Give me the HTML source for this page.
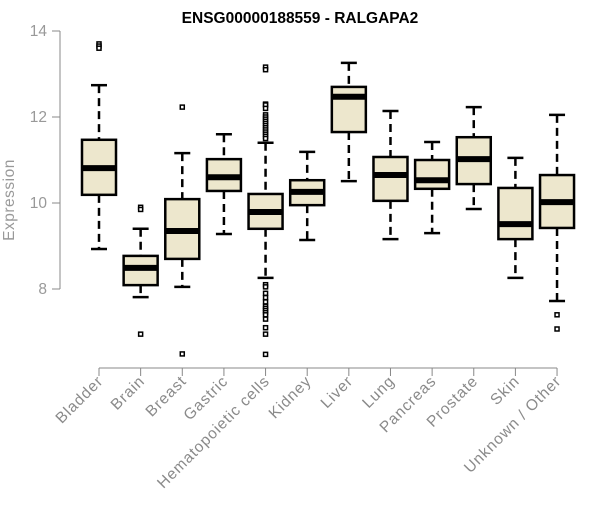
<!DOCTYPE html>
<html><head><meta charset="utf-8"><style>
body{margin:0;background:#fff;}
svg text{font-family:"Liberation Sans",sans-serif;}
</style></head><body>
<svg id="chart" width="600" height="500" xmlns="http://www.w3.org/2000/svg">
<text x="300" y="23" text-anchor="middle" font-size="15.5" font-weight="bold">ENSG00000188559 - RALGAPA2</text>
<text transform="translate(14,200) rotate(-90)" text-anchor="middle" font-size="15.5" fill="#999" letter-spacing="0.5">Expression</text>
<g id="yaxis"></g>
<g id="xaxis"></g>
<g id="boxes"></g>
</svg>
<script>
const categories=["Bladder","Brain","Breast","Gastric","Hematopoietic cells","Kidney","Liver","Lung","Pancreas","Prostate","Skin","Unknown / Other"];
const lowWhisker=[8.93,7.81,8.05,9.28,8.26,9.14,10.51,9.16,9.30,9.86,8.26,7.72];
const q1=[10.19,8.09,8.70,10.28,9.40,9.95,11.65,10.05,10.33,10.44,9.16,9.42];
const medians=[10.81,8.49,9.35,10.60,9.79,10.26,12.47,10.65,10.53,11.02,9.51,10.02];
const q3=[11.47,8.77,10.09,11.02,10.21,10.53,12.70,11.07,11.00,11.53,10.35,10.65];
const highWhisker=[12.74,9.40,11.16,11.60,11.40,11.19,13.26,12.14,11.42,12.23,11.05,12.05];
const outliers=[[13.7,13.65,13.6],[9.9,9.85,6.95],[12.23,6.49],[],[13.16,13.1,12.3,12.28,12.2,12.05,12.0,11.95,11.9,11.85,11.8,11.75,11.7,11.65,11.6,11.55,11.5,8.1,8.05,7.9,7.8,7.7,7.6,7.55,7.5,7.45,7.4,7.3,7.1,6.95,6.48],[],[],[],[],[],[],[7.4,7.07]];
const yTicks=[8,10,12,14];
const NS="http://www.w3.org/2000/svg";
const y=v=>289-(v-8)*43;
const x=i=>99+i*41.64;
function mk(tag,attrs,parent){const e=document.createElementNS(NS,tag);for(const k in attrs)e.setAttribute(k,attrs[k]);parent.appendChild(e);return e;}
const ya=document.getElementById('yaxis'),xa=document.getElementById('xaxis'),bx=document.getElementById('boxes');
mk('line',{x1:60,x2:60,y1:y(14),y2:y(8),stroke:'#888'},ya);
yTicks.forEach(t=>{mk('line',{x1:52,x2:60,y1:y(t),y2:y(t),stroke:'#888'},ya);
const tx=mk('text',{x:47,y:y(t)+5,'text-anchor':'end','font-size':15.5,fill:'#999'},ya);tx.textContent=t;

});
mk('line',{x1:x(0),x2:x(11),y1:368,y2:368,stroke:'#888'},xa);
categories.forEach((c,i)=>{
mk('line',{x1:x(i),x2:x(i),y1:368,y2:376,stroke:'#888'},xa);
const t=mk('text',{transform:`translate(${x(i)+5},382) rotate(-45)`,'text-anchor':'end','font-size':15.5,'letter-spacing':0.9,fill:'#8a8a8a'},xa);t.textContent=c;


const g=mk('g',{},bx);


const cx=x(i),hw=17,cw=8;
mk('line',{x1:cx,x2:cx,y1:y(highWhisker[i]),y2:y(q3[i]),stroke:'#000','stroke-width':2.5,'stroke-dasharray':'8,5'},g);
mk('line',{x1:cx,x2:cx,y1:y(q1[i]),y2:y(lowWhisker[i]),stroke:'#000','stroke-width':2.5,'stroke-dasharray':'8,5'},g);
mk('line',{x1:cx-cw,x2:cx+cw,y1:y(highWhisker[i]),y2:y(highWhisker[i]),stroke:'#000','stroke-width':2.5},g);
mk('line',{x1:cx-cw,x2:cx+cw,y1:y(lowWhisker[i]),y2:y(lowWhisker[i]),stroke:'#000','stroke-width':2.5},g);
mk('rect',{x:cx-hw,y:y(q3[i]),width:2*hw,height:y(q1[i])-y(q3[i]),fill:'#ede7cd',stroke:'#000','stroke-width':2.5},g);
mk('line',{x1:cx-hw,x2:cx+hw,y1:y(medians[i]),y2:y(medians[i]),stroke:'#000','stroke-width':6},g);
outliers[i].forEach(o=>{const r=mk('rect',{x:cx-2,y:y(o)-2,width:4,height:4,fill:'#fff',stroke:'#000','stroke-width':1.5},g);

});
});
</script>
</body></html>
